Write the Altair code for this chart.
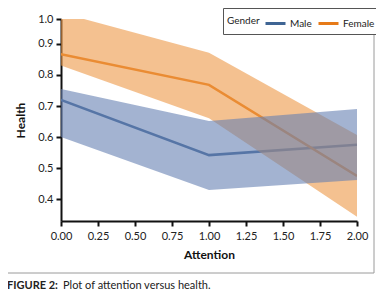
import altair as alt
import pandas as pd

attention = [0.0, 1.0, 2.0]
male_mean = [0.72, 0.542, 0.575]
male_lo = [0.60, 0.43, 0.462]
male_hi = [0.755, 0.652, 0.69]
female_mean = [0.867, 0.768, 0.475]
female_lo = [0.83, 0.661, 0.344]
female_hi = [1.0, 0.871, 0.607]
genders = ["Male", "Female"]
x_ticks = [0, 0.25, 0.5, 0.75, 1.0, 1.25, 1.5, 1.75, 2.0]
y_ticks = [0.4, 0.5, 0.6, 0.7, 0.8, 0.9, 0.98]

rows = []
for g, m, lo, hi in [("Male", male_mean, male_lo, male_hi),
                     ("Female", female_mean, female_lo, female_hi)]:
    for x, a, b, c in zip(attention, m, lo, hi):
        rows.append({"Attention": x, "Health": a, "lo": b, "hi": c, "Gender": g})
df = pd.DataFrame(rows)

FONT = "Lato"
xs = alt.Scale(domain=[0, 2])
ys = alt.Scale(domain=[0.33, 0.98])
x_axis = alt.Axis(values=x_ticks, format=".2f", title="Attention", labelOverlap=False)
y_axis = alt.Axis(values=y_ticks, title="Health", labelOverlap=False,
                  labelExpr="datum.value > 0.95 ? '1.0' : format(datum.value, '.1f')")

base = alt.Chart(df)

lines = base.mark_line(strokeWidth=2.5, clip=True).encode(
    x=alt.X("Attention:Q", scale=xs, axis=x_axis),
    y=alt.Y("Health:Q", scale=ys, axis=y_axis),
    stroke=alt.Stroke("Gender:N", scale=alt.Scale(domain=genders, range=["#3F6594", "#E67A18"]),
                      legend=alt.Legend(title="Gender")),
)

def band(g, col):
    return base.transform_filter(alt.datum.Gender == g).mark_area(
        color=col, opacity=0.6, clip=True).encode(
        x=alt.X("Attention:Q", scale=xs, axis=x_axis),
        y=alt.Y("lo:Q", scale=ys, axis=y_axis),
        y2="hi:Q",
    )

frame = alt.Chart(pd.DataFrame({"a": [0]})).mark_rect(
    fill=None, stroke="#9a9a9a", strokeWidth=1, clip=False).encode(
    x=alt.value(-54), x2=alt.value(313), y=alt.value(-15), y2=alt.value(254))

cap1 = alt.Chart(pd.DataFrame({"t": ["FIGURE 2:"]})).mark_text(
    align="left", baseline="middle", font=FONT, fontSize=11, fontWeight="bold",
    color="#222", clip=False).encode(text="t:N", x=alt.value(-54), y=alt.value(267))
cap2 = alt.Chart(pd.DataFrame({"t": ["Plot of attention versus health."]})).mark_text(
    align="left", baseline="middle", font=FONT, fontSize=11,
    color="#222", clip=False).encode(text="t:N", x=alt.value(2), y=alt.value(267))

chart = alt.layer(lines, band("Female", "#ED9846"), band("Male", "#6680B2"),
                  frame, cap1, cap2).properties(
    width=296, height=202,
    autosize=alt.AutoSizeParams(type="none"),
    padding={"left": 53, "top": 11, "right": 19, "bottom": 69},
).configure_view(stroke=None).configure_axis(
    domainColor="#111", domainWidth=2, tickColor="#111", tickWidth=2, tickSize=5,
    grid=False, labelFont=FONT, labelFontSize=11, labelColor="#222",
    labelOverlap=False, labelFlush=False,
    titleFont=FONT, titleFontSize=12, titleFontWeight="bold", titleColor="#111",
).configure_axisX(labelPadding=4, titlePadding=8).configure_axisY(
    labelPadding=3, titlePadding=10).configure_legend(
    orient="none", legendX=162, legendY=-11, direction="horizontal",
    titleOrient="left", strokeColor="#555", padding=4, symbolType="stroke",
    symbolSize=400, symbolStrokeWidth=3, labelFont=FONT, labelFontSize=10,
    titleFont=FONT, titleFontSize=10, titleFontWeight="normal", titleColor="#222",
    labelColor="#222", columnPadding=0, titlePadding=4, labelOffset=3,
    gridAlign="none", fillColor="white")

chart.save("out.html", embed_options={"renderer": "svg", "actions": False})
